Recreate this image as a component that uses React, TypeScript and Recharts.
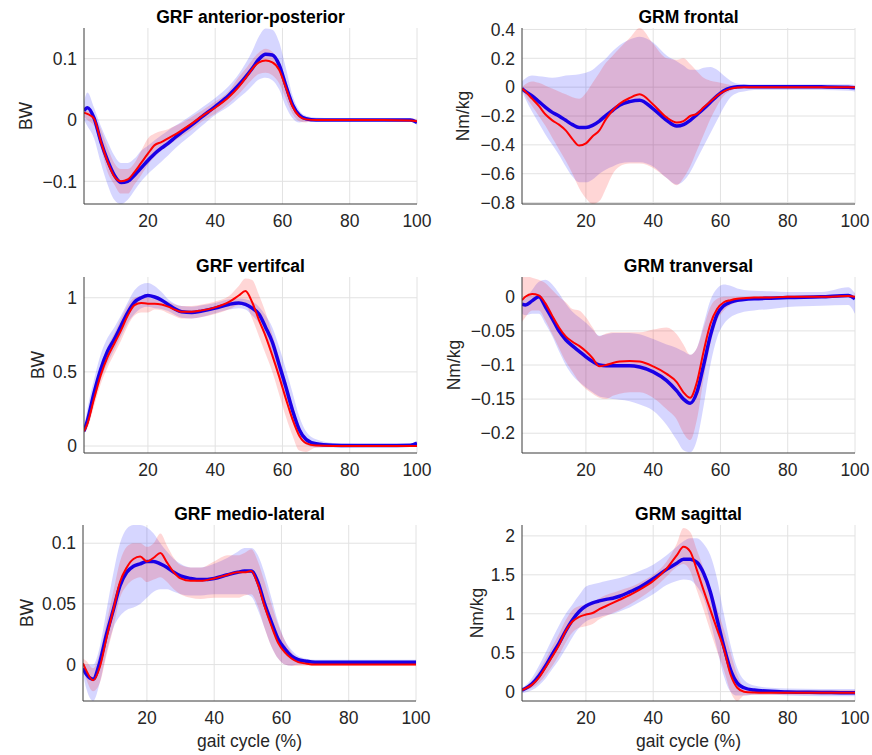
import React from 'react';
import { ComposedChart, Area, Line, XAxis, YAxis, CartesianGrid } from 'recharts';

// gait cycle samples (%)
const gait = [1, 2, 4, 6, 8, 10, 12, 14, 16, 18, 20, 22, 24, 26, 28, 30, 33, 36, 40, 44, 47, 49, 51, 53, 55, 57, 59, 61, 63, 65, 67, 70, 75, 80, 90, 98, 100];

// GRF anterior-posterior
const apBlue = [0.015, 0.02, 0.003, -0.035, -0.066, -0.09, -0.102, -0.1, -0.09, -0.078, -0.066, -0.055, -0.046, -0.038, -0.029, -0.02, -0.008, 0.005, 0.022, 0.04, 0.057, 0.07, 0.084, 0.099, 0.107, 0.106, 0.09, 0.056, 0.025, 0.008, 0.002, 0, 0, 0, 0, 0, -0.004];
const apBlueHi = [0.03, 0.045, 0.02, -0.01, -0.035, -0.058, -0.07, -0.07, -0.063, -0.05, -0.042, -0.033, -0.025, -0.017, -0.01, -0.003, 0.008, 0.02, 0.036, 0.055, 0.075, 0.092, 0.112, 0.136, 0.149, 0.147, 0.127, 0.085, 0.04, 0.016, 0.007, 0.004, 0.003, 0.003, 0.003, 0.003, 0];
const apBlueLo = [0, -0.01, -0.03, -0.07, -0.105, -0.13, -0.137, -0.13, -0.115, -0.1, -0.088, -0.078, -0.068, -0.058, -0.047, -0.037, -0.024, -0.01, 0.008, 0.022, 0.036, 0.045, 0.056, 0.066, 0.069, 0.065, 0.05, 0.022, 0.003, -0.004, -0.003, -0.002, -0.002, -0.002, -0.002, -0.003, -0.008];
const apRed = [0.012, 0.01, 0.002, -0.035, -0.068, -0.092, -0.1, -0.097, -0.085, -0.07, -0.055, -0.041, -0.036, -0.03, -0.024, -0.017, -0.006, 0.006, 0.02, 0.037, 0.054, 0.068, 0.083, 0.094, 0.097, 0.094, 0.082, 0.053, 0.022, 0.006, 0.001, 0, 0, 0, 0, -0.001, -0.002];
const apRedHi = [0.015, 0.015, 0.005, -0.015, -0.045, -0.07, -0.08, -0.08, -0.07, -0.05, -0.03, -0.022, -0.018, -0.015, -0.01, -0.005, 0.005, 0.015, 0.03, 0.047, 0.07, 0.083, 0.098, 0.11, 0.116, 0.111, 0.096, 0.066, 0.028, 0.009, 0.003, 0.002, 0.002, 0.002, 0.002, 0.002, 0.002];
const apRedLo = [0.005, 0, -0.01, -0.045, -0.085, -0.105, -0.12, -0.12, -0.105, -0.09, -0.073, -0.06, -0.05, -0.042, -0.034, -0.027, -0.016, -0.003, 0.01, 0.027, 0.042, 0.054, 0.066, 0.075, 0.077, 0.073, 0.06, 0.035, 0.01, -0.002, -0.004, -0.001, -0.001, -0.001, -0.001, -0.002, -0.004];

// GRM frontal
const frBlue = [-0.01, -0.03, -0.06, -0.1, -0.14, -0.175, -0.2, -0.23, -0.26, -0.28, -0.28, -0.265, -0.235, -0.195, -0.16, -0.125, -0.1, -0.09, -0.15, -0.23, -0.27, -0.26, -0.23, -0.19, -0.15, -0.105, -0.06, -0.025, -0.005, 0.003, 0.004, 0.003, 0.003, 0.003, 0.002, 0, -0.005];
const frBlueHi = [0.04, 0.06, 0.08, 0.075, 0.07, 0.065, 0.07, 0.08, 0.085, 0.09, 0.1, 0.12, 0.16, 0.2, 0.25, 0.29, 0.33, 0.35, 0.31, 0.22, 0.18, 0.15, 0.12, 0.12, 0.135, 0.14, 0.12, 0.08, 0.045, 0.025, 0.02, 0.02, 0.02, 0.02, 0.02, 0.02, 0.015];
const frBlueLo = [-0.03, -0.08, -0.17, -0.25, -0.33, -0.4, -0.47, -0.55, -0.62, -0.66, -0.66, -0.64, -0.6, -0.57, -0.55, -0.53, -0.52, -0.52, -0.55, -0.63, -0.675, -0.65, -0.59, -0.5, -0.41, -0.32, -0.23, -0.14, -0.07, -0.04, -0.03, -0.02, -0.02, -0.02, -0.02, -0.025, -0.03];
const frRed = [-0.01, -0.03, -0.08, -0.13, -0.19, -0.23, -0.26, -0.3, -0.36, -0.405, -0.39, -0.34, -0.3, -0.22, -0.16, -0.115, -0.075, -0.05, -0.12, -0.21, -0.245, -0.235, -0.2, -0.185, -0.14, -0.1, -0.06, -0.03, -0.01, -0.003, 0, 0, 0, 0, 0, 0, 0];
const frRedHi = [0, 0.02, 0.04, 0.03, 0.01, -0.01, -0.03, -0.05, -0.07, -0.08, -0.04, 0.03, 0.1, 0.17, 0.22, 0.27, 0.34, 0.41, 0.3, 0.2, 0.19, 0.2, 0.16, 0.11, 0.065, 0.045, 0.035, 0.025, 0.015, 0.008, 0.005, 0.005, 0.005, 0.005, 0.005, 0.005, 0.005];
const frRedLo = [-0.01, -0.06, -0.13, -0.2, -0.27, -0.35, -0.43, -0.51, -0.6, -0.7, -0.77, -0.81, -0.79, -0.7, -0.6, -0.55, -0.53, -0.53, -0.56, -0.63, -0.68, -0.63, -0.55, -0.44, -0.33, -0.22, -0.13, -0.06, -0.025, -0.01, -0.006, -0.005, -0.005, -0.005, -0.005, -0.005, -0.005];

// GRF vertical
const vtBlue = [0.1, 0.17, 0.36, 0.52, 0.64, 0.72, 0.81, 0.9, 0.97, 1.0, 1.015, 1.005, 0.985, 0.955, 0.925, 0.905, 0.9, 0.91, 0.93, 0.955, 0.965, 0.955, 0.93, 0.89, 0.8, 0.7, 0.55, 0.4, 0.24, 0.11, 0.045, 0.015, 0.005, 0.003, 0.003, 0.005, 0.02];
const vtBlueHi = [0.12, 0.25, 0.45, 0.62, 0.73, 0.8, 0.88, 0.97, 1.05, 1.09, 1.1, 1.08, 1.04, 0.99, 0.96, 0.945, 0.94, 0.95, 0.965, 0.99, 0.995, 0.99, 0.975, 0.94, 0.88, 0.8, 0.67, 0.52, 0.36, 0.2, 0.1, 0.045, 0.02, 0.015, 0.01, 0.01, 0.025];
const vtBlueLo = [0.08, 0.15, 0.3, 0.45, 0.56, 0.65, 0.74, 0.83, 0.89, 0.93, 0.94, 0.93, 0.925, 0.91, 0.885, 0.865, 0.86, 0.87, 0.895, 0.92, 0.93, 0.92, 0.88, 0.83, 0.74, 0.62, 0.46, 0.31, 0.16, 0.06, 0.01, -0.01, -0.01, -0.008, -0.005, 0, 0.015];
const vtRed = [0.1, 0.15, 0.32, 0.48, 0.6, 0.69, 0.78, 0.88, 0.95, 0.965, 0.96, 0.96, 0.955, 0.94, 0.92, 0.905, 0.905, 0.915, 0.935, 0.97, 1.015, 1.045, 0.97, 0.85, 0.74, 0.61, 0.47, 0.32, 0.18, 0.07, 0.02, 0.003, 0, 0, 0, 0, 0];
const vtRedHi = [0.11, 0.2, 0.38, 0.55, 0.67, 0.76, 0.86, 0.95, 1.0, 1.01, 1.0, 0.99, 0.985, 0.975, 0.955, 0.945, 0.945, 0.955, 0.975, 1.01, 1.08, 1.13, 1.12, 1.02, 0.9, 0.75, 0.6, 0.44, 0.28, 0.14, 0.05, 0.01, 0.005, 0.002, 0.002, 0.002, 0.002];
const vtRedLo = [0.09, 0.12, 0.27, 0.42, 0.53, 0.62, 0.71, 0.81, 0.88, 0.9, 0.9, 0.92, 0.915, 0.895, 0.875, 0.86, 0.86, 0.87, 0.89, 0.92, 0.95, 0.95, 0.86, 0.74, 0.62, 0.5, 0.35, 0.2, 0.07, -0.03, -0.04, -0.01, -0.005, -0.003, -0.003, -0.003, -0.003];

// GRM transversal
const trBlue = [-0.011, -0.012, -0.006, 0, -0.015, -0.032, -0.05, -0.063, -0.072, -0.08, -0.088, -0.095, -0.1, -0.101, -0.101, -0.101, -0.101, -0.103, -0.11, -0.123, -0.138, -0.15, -0.156, -0.14, -0.1, -0.057, -0.026, -0.013, -0.008, -0.005, -0.004, -0.003, -0.002, -0.001, 0, 0.002, -0.003];
const trBlueHi = [-0.005, -0.003, 0.01, 0.022, 0.025, 0.018, 0.005, -0.01, -0.022, -0.03, -0.038, -0.048, -0.057, -0.055, -0.053, -0.053, -0.053, -0.055, -0.062, -0.07, -0.075, -0.08, -0.085, -0.075, -0.04, -0.005, 0.012, 0.018, 0.016, 0.012, 0.01, 0.009, 0.008, 0.007, 0.007, 0.014, 0.005];
const trBlueLo = [-0.025, -0.027, -0.025, -0.025, -0.04, -0.058, -0.08, -0.1, -0.115, -0.125, -0.133, -0.14, -0.146, -0.148, -0.15, -0.151, -0.153, -0.158, -0.167, -0.188, -0.21, -0.225, -0.228, -0.21, -0.16, -0.1, -0.06, -0.04, -0.03, -0.025, -0.022, -0.02, -0.018, -0.015, -0.013, -0.012, -0.025];
const trRed = [-0.005, 0, 0.004, 0.002, -0.01, -0.028, -0.045, -0.058, -0.066, -0.072, -0.08, -0.09, -0.102, -0.1, -0.097, -0.095, -0.094, -0.095, -0.102, -0.113, -0.125, -0.14, -0.148, -0.125, -0.08, -0.04, -0.018, -0.008, -0.005, -0.003, -0.002, -0.001, -0.001, 0, 0, 0.001, 0];
const trRedHi = [0.028, 0.03, 0.028, 0.025, 0.02, 0.01, 0, -0.008, -0.018, -0.02, -0.03, -0.045, -0.058, -0.054, -0.052, -0.052, -0.052, -0.052, -0.048, -0.045, -0.055, -0.07, -0.085, -0.075, -0.045, -0.015, -0.003, 0, 0, 0, 0, 0, 0, 0, 0.001, 0.002, 0.002];
const trRedLo = [-0.037, -0.03, -0.02, -0.02, -0.035, -0.055, -0.075, -0.095, -0.11, -0.125, -0.135, -0.142, -0.148, -0.15, -0.145, -0.142, -0.14, -0.14, -0.148, -0.165, -0.18, -0.2, -0.21, -0.18, -0.12, -0.07, -0.035, -0.02, -0.012, -0.008, -0.005, -0.004, -0.003, -0.002, -0.002, -0.001, -0.002];

// GRF medio-lateral
const mlBlue = [-0.003, -0.008, -0.012, 0.002, 0.025, 0.045, 0.065, 0.076, 0.081, 0.083, 0.085, 0.085, 0.083, 0.08, 0.076, 0.073, 0.071, 0.07, 0.071, 0.074, 0.076, 0.077, 0.077, 0.068, 0.05, 0.035, 0.021, 0.013, 0.007, 0.004, 0.003, 0.002, 0.002, 0.002, 0.002, 0.002, 0.002];
const mlBlueHi = [0.002, 0, 0, 0.015, 0.045, 0.075, 0.1, 0.112, 0.115, 0.115, 0.113, 0.108, 0.1, 0.093, 0.087, 0.083, 0.08, 0.08, 0.083, 0.088, 0.093, 0.096, 0.096, 0.09, 0.075, 0.055, 0.035, 0.02, 0.012, 0.007, 0.005, 0.004, 0.004, 0.004, 0.004, 0.004, 0.004];
const mlBlueLo = [-0.008, -0.02, -0.03, -0.015, 0.01, 0.03, 0.04, 0.045, 0.047, 0.05, 0.055, 0.06, 0.062, 0.062, 0.06, 0.058, 0.057, 0.057, 0.058, 0.058, 0.058, 0.058, 0.056, 0.045, 0.03, 0.015, 0.005, 0, -0.001, 0, 0, 0, 0, 0, 0, 0, 0];
const mlRed = [0.001, -0.005, -0.013, -0.002, 0.022, 0.045, 0.068, 0.08, 0.087, 0.089, 0.085, 0.088, 0.092, 0.084, 0.076, 0.071, 0.069, 0.069, 0.071, 0.074, 0.076, 0.076, 0.077, 0.066, 0.048, 0.032, 0.018, 0.01, 0.005, 0.002, 0.001, 0, 0, 0, 0, 0, 0];
const mlRedHi = [0.005, 0.003, -0.003, 0.01, 0.035, 0.06, 0.085, 0.097, 0.1, 0.1, 0.097, 0.1, 0.108, 0.098, 0.088, 0.082, 0.08, 0.08, 0.085, 0.09, 0.09, 0.092, 0.095, 0.085, 0.068, 0.05, 0.033, 0.02, 0.01, 0.005, 0.002, 0.001, 0.001, 0.001, 0.001, 0.001, 0.001];
const mlRedLo = [-0.003, -0.012, -0.022, -0.015, 0.008, 0.03, 0.055, 0.065, 0.07, 0.072, 0.068, 0.07, 0.072, 0.068, 0.062, 0.058, 0.055, 0.054, 0.055, 0.055, 0.055, 0.057, 0.058, 0.048, 0.03, 0.015, 0.005, 0, -0.001, -0.001, -0.001, -0.001, -0.001, -0.001, -0.001, -0.001, -0.001];

// GRM sagittal
const sgBlue = [0.02, 0.04, 0.1, 0.2, 0.33, 0.48, 0.62, 0.78, 0.92, 1.03, 1.1, 1.14, 1.165, 1.185, 1.2, 1.225, 1.28, 1.34, 1.45, 1.57, 1.65, 1.7, 1.7, 1.66, 1.52, 1.28, 0.93, 0.58, 0.28, 0.11, 0.05, 0.02, 0.005, -0.005, -0.01, -0.015, -0.015];
const sgBlueHi = [0.05, 0.08, 0.18, 0.33, 0.5, 0.68, 0.85, 1.0, 1.12, 1.24, 1.35, 1.38, 1.4, 1.42, 1.44, 1.46, 1.5, 1.55, 1.63, 1.75, 1.86, 1.93, 1.97, 1.97, 1.9, 1.75, 1.45, 1.0, 0.6, 0.3, 0.15, 0.08, 0.05, 0.04, 0.035, 0.035, 0.035];
const sgBlueLo = [-0.02, -0.01, 0.02, 0.08, 0.17, 0.29, 0.41, 0.55, 0.7, 0.82, 0.9, 0.94, 0.96, 0.98, 1.0, 1.03, 1.08, 1.15, 1.25, 1.37, 1.42, 1.44, 1.43, 1.35, 1.2, 0.9, 0.55, 0.2, 0, -0.05, -0.05, -0.04, -0.04, -0.05, -0.06, -0.06, -0.06];
const sgRed = [0.02, 0.04, 0.09, 0.18, 0.31, 0.45, 0.6, 0.78, 0.9, 0.96, 0.99, 1.01, 1.06, 1.1, 1.14, 1.18, 1.24, 1.31, 1.42, 1.58, 1.75, 1.86, 1.8, 1.56, 1.3, 1.05, 0.8, 0.55, 0.22, 0.05, 0, -0.01, -0.015, -0.015, -0.015, -0.015, -0.015];
const sgRedHi = [0.04, 0.06, 0.14, 0.27, 0.42, 0.58, 0.74, 0.92, 1.05, 1.1, 1.12, 1.15, 1.2, 1.24, 1.27, 1.3, 1.34, 1.4, 1.5, 1.67, 1.9, 2.1, 2.05, 1.82, 1.58, 1.33, 1.07, 0.8, 0.5, 0.22, 0.06, 0.02, 0.02, 0.02, 0.02, 0.02, 0.02];
const sgRedLo = [0, 0.02, 0.05, 0.11, 0.21, 0.33, 0.47, 0.63, 0.76, 0.82, 0.84, 0.87, 0.93, 0.97, 1.01, 1.05, 1.12, 1.2, 1.32, 1.48, 1.6, 1.64, 1.55, 1.3, 1.05, 0.78, 0.52, 0.28, 0, -0.12, -0.05, -0.04, -0.04, -0.04, -0.04, -0.04, -0.04];

const xTicks = [20, 40, 60, 80, 100];

const fmt = (v: number) => String(v).replace('-', '\u2212');

interface PanelProps {
  title: string;
  ylabel: string;
  left: number;
  top: number;
  domain: [number, number];
  yTicks: number[];
  labelX: number;
  blue: number[];
  blueHi: number[];
  blueLo: number[];
  red: number[];
  redHi: number[];
  redLo: number[];
  xlabel?: boolean;
}

const PLOT_W = 333;
const PLOT_H = 176;
const ML = 70;
const MT = 30;
const FONT = '"Liberation Sans", Arial, sans-serif';
const FS = 17.5;

const Panel: React.FC<PanelProps> = (p) => {
  const data = gait.map((x, i) => ({
    x,
    blue: p.blue[i],
    red: p.red[i],
    blueBand: [p.blueLo[i], p.blueHi[i]],
    redBand: [p.redLo[i], p.redHi[i]],
  }));
  return (
    <div style={{ position: 'absolute', left: p.left - ML, top: p.top - MT, width: ML + PLOT_W + 20, height: MT + PLOT_H + 40 }}>
      <ComposedChart
        width={ML + PLOT_W + 20}
        height={MT + PLOT_H + 40}
        data={data}
        margin={{ top: MT, right: 20, left: 0, bottom: 10 }}
      >
        <CartesianGrid stroke="#e2e2e2" strokeWidth={1} horizontalValues={p.yTicks} verticalValues={xTicks} />
        <XAxis
          dataKey="x"
          type="number"
          domain={[1, 100]}
          ticks={xTicks}
          allowDataOverflow
          height={30}
          tickSize={0}
          tickMargin={11}
          stroke="#3a3a3a"
          tick={{ fill: '#262626', fontSize: FS, fontFamily: FONT }}
        />
        <YAxis
          type="number"
          domain={p.domain}
          ticks={p.yTicks}
          allowDataOverflow
          width={ML}
          tickSize={0}
          tickMargin={7}
          tickFormatter={fmt}
          stroke="#3a3a3a"
          tick={{ fill: '#262626', fontSize: FS, fontFamily: FONT }}
        />
        <Area dataKey="blueBand" type="monotone" stroke="none" fill="#0000ff" fillOpacity={0.16} isAnimationActive={false} />
        <Area dataKey="redBand" type="monotone" stroke="none" fill="#ff0000" fillOpacity={0.16} isAnimationActive={false} />
        <Line dataKey="blue" type="monotone" stroke="#1a00e6" strokeWidth={3.5} dot={false} isAnimationActive={false} />
        <Line dataKey="red" type="monotone" stroke="#ff0000" strokeWidth={2} dot={false} isAnimationActive={false} />
      </ComposedChart>
      <div style={{ position: 'absolute', left: ML, top: MT - 21, width: PLOT_W, height: 20, lineHeight: '20px', textAlign: 'center', fontFamily: FONT, fontWeight: 'bold', fontSize: 17.5, color: '#000', whiteSpace: 'nowrap' }}>
        {p.title}
      </div>
      <div
        style={{
          position: 'absolute',
          left: p.labelX - (p.left - ML) - 50,
          top: MT + PLOT_H / 2 - 10,
          width: 100,
          height: 20,
          lineHeight: '20px',
          textAlign: 'center',
          transform: 'rotate(-90deg)',
          fontFamily: FONT,
          fontSize: FS,
          color: '#262626',
        }}
      >
        {p.ylabel}
      </div>
      {p.xlabel && (
        <div style={{ position: 'absolute', left: ML, top: MT + PLOT_H + 30, width: PLOT_W, height: 20, lineHeight: '20px', textAlign: 'center', fontFamily: FONT, fontSize: FS, color: '#262626' }}>
          gait cycle (%)
        </div>
      )}
    </div>
  );
};

export default function App() {
  return (
    <div style={{ position: 'absolute', left: 0, top: 0, width: 872, height: 755, background: '#fff', overflow: 'hidden' }}>
      <Panel title="GRF anterior-posterior" ylabel="BW" left={84} top={28} domain={[-0.137, 0.15]} yTicks={[-0.1, 0, 0.1]} labelX={26}
        blue={apBlue} blueHi={apBlueHi} blueLo={apBlueLo} red={apRed} redHi={apRedHi} redLo={apRedLo} />
      <Panel title="GRM frontal" ylabel="Nm/kg" left={522} top={28} domain={[-0.81, 0.41]} yTicks={[-0.8, -0.6, -0.4, -0.2, 0, 0.2, 0.4]} labelX={463}
        blue={frBlue} blueHi={frBlueHi} blueLo={frBlueLo} red={frRed} redHi={frRedHi} redLo={frRedLo} />
      <Panel title="GRF vertifcal" ylabel="BW" left={84} top={277} domain={[-0.047, 1.14]} yTicks={[0, 0.5, 1]} labelX={38}
        blue={vtBlue} blueHi={vtBlueHi} blueLo={vtBlueLo} red={vtRed} redHi={vtRedHi} redLo={vtRedLo} />
      <Panel title="GRM tranversal" ylabel="Nm/kg" left={522} top={277} domain={[-0.229, 0.029]} yTicks={[-0.2, -0.15, -0.1, -0.05, 0]} labelX={454}
        blue={trBlue} blueHi={trBlueHi} blueLo={trBlueLo} red={trRed} redHi={trRedHi} redLo={trRedLo} />
      <Panel title="GRF medio-lateral" ylabel="BW" left={83} top={525} domain={[-0.03, 0.115]} yTicks={[0, 0.05, 0.1]} labelX={27} xlabel
        blue={mlBlue} blueHi={mlBlueHi} blueLo={mlBlueLo} red={mlRed} redHi={mlRedHi} redLo={mlRedLo} />
      <Panel title="GRM sagittal" ylabel="Nm/kg" left={522} top={525} domain={[-0.12, 2.14]} yTicks={[0, 0.5, 1, 1.5, 2]} labelX={477} xlabel
        blue={sgBlue} blueHi={sgBlueHi} blueLo={sgBlueLo} red={sgRed} redHi={sgRedHi} redLo={sgRedLo} />
    </div>
  );
}
